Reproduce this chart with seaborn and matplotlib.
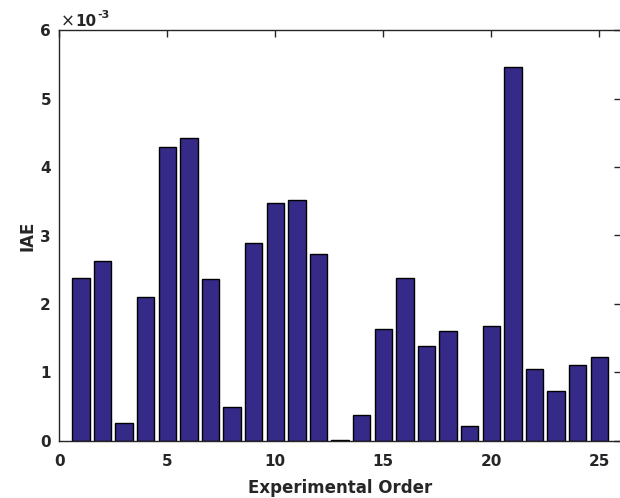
import matplotlib
matplotlib.use("Agg")
import matplotlib.pyplot as plt
import matplotlib.ticker as mticker
import seaborn as sns
import pandas as pd

order = list(range(1, 26))
iae = [2.38e-3, 2.62e-3, 0.26e-3, 2.105e-3, 4.29e-3, 4.43e-3, 2.36e-3, 0.49e-3,
       2.885e-3, 3.475e-3, 3.515e-3, 2.725e-3, 0.01e-3, 0.375e-3, 1.635e-3,
       2.375e-3, 1.38e-3, 1.605e-3, 0.215e-3, 1.672e-3, 5.47e-3, 1.045e-3,
       0.72e-3, 1.10e-3, 1.22e-3]
xticks = [0, 5, 10, 15, 20, 25]
yticks = [0, 1e-3, 2e-3, 3e-3, 4e-3, 5e-3, 6e-3]

sns.set_style("white")
plt.rcParams['font.family'] = ['DejaVu Sans']
plt.rcParams['font.weight'] = 'bold'

df = pd.DataFrame({"order": order, "iae": iae})

W, H = 620, 498
fig = plt.figure(figsize=(W / 100, H / 100), dpi=100)
ax = fig.add_axes([59.3 / W, (H - 440.7) / H, 561.6 / W, 410.4 / H])
sns.barplot(data=df, x="order", y="iae", native_scale=True, color="#352a87",
            saturation=1, edgecolor="black", linewidth=1.0, width=0.8, ax=ax)

ax.set_xlim(0, 26)
ax.set_ylim(0, 6e-3)
ax.set_xticks(xticks)
ax.set_yticks(yticks)
ax.yaxis.set_major_formatter(mticker.FuncFormatter(lambda v, p: f"{v * 1e3:g}"))

ax.tick_params(direction='in', length=5, width=1, colors='#262626',
               labelsize=11, top=True, right=True, labeltop=False, labelright=False)
ax.tick_params(axis='x', pad=9.3)
ax.tick_params(axis='y', pad=6)
for lab in ax.get_xticklabels() + ax.get_yticklabels():
    lab.set_fontweight('bold')
for s in ax.spines.values():
    s.set_visible(True)
    s.set_color('#262626')
    s.set_linewidth(1.0)

ax.set_xlabel("Experimental Order", fontsize=12, fontweight='bold', color='#262626', labelpad=7.5)
ax.set_ylabel("IAE", fontsize=12, fontweight='bold', color='#262626', labelpad=3)

# MATLAB-style exponent label above the y axis
tc = '#262626'
fig.text(61 / W, 1 - 27 / H, "\u00d7", fontsize=12, fontweight='normal',
         family='DejaVu Sans', color=tc, va='baseline', ha='left')
fig.text(75 / W, 1 - 26 / H, "10", fontsize=11, fontweight='bold',
         family='DejaVu Sans', color=tc, va='baseline', ha='left')
fig.text(97 / W, 1 - 18.5 / H, "-3", fontsize=8, fontweight='bold',
         family='DejaVu Sans', color=tc, va='baseline', ha='left')

fig.savefig("out.png", dpi=100)
